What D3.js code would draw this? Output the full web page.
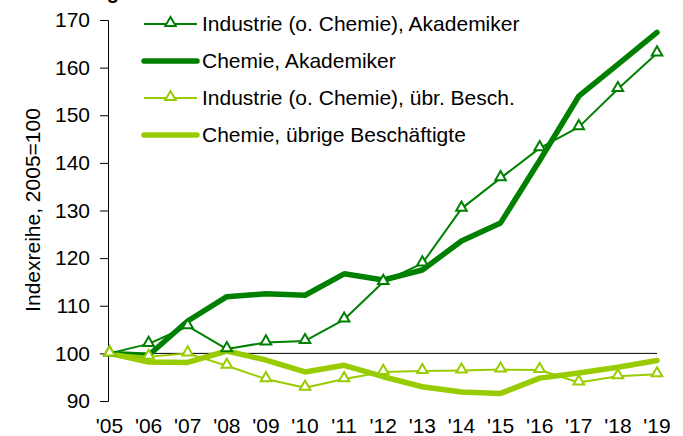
<!DOCTYPE html>
<html>
<head>
<meta charset="utf-8">
<script src="https://cdn.jsdelivr.net/npm/d3@7"></script>
<style>
  body { margin: 0; background: #fff; }
  svg text { font-family: "Liberation Sans", Arial, sans-serif; fill: #000; }
</style>
</head>
<body>
<div id="d3-container"></div>
<script>
// CONST and GLOBALS

const width = 683,
  height = 436,
  margin = { top: 20, bottom: 35, left: 108, right: 26 },
  fontSize = 21;

const darkGreen = '#008000',
  lightGreen = '#99cc00';

// data
const years = ["'05", "'06", "'07", "'08", "'09", "'10", "'11", "'12", "'13", "'14", "'15", "'16", "'17", "'18", "'19"];
const industrieAkad = [100, 102.0, 105.7, 100.9, 102.3, 102.6, 107.1, 115.0, 118.9, 130.4, 136.8, 143.1, 147.5, 155.5, 163.0];
const chemieAkad = [100, 99.6, 106.8, 111.9, 112.5, 112.2, 116.7, 115.4, 117.5, 123.6, 127.4, 140.5, 154.0, 160.7, 167.4];
const industrieUebrige = [100, 99.3, 100.0, 97.4, 94.6, 92.8, 94.6, 96.1, 96.3, 96.4, 96.6, 96.5, 93.9, 95.2, 95.6];
const chemieUebrige = [100, 98.2, 98.1, 100.5, 98.6, 96.1, 97.5, 95.1, 93.0, 91.9, 91.6, 94.8, 95.9, 97.1, 98.5];
const yTicks = [90, 100, 110, 120, 130, 140, 150, 160, 170];

const series = [
  { name: 'Industrie (o. Chemie), Akademiker', values: industrieAkad, color: darkGreen, width: 2, marker: true },
  { name: 'Chemie, Akademiker', values: chemieAkad, color: darkGreen, width: 5.5, marker: false },
  { name: 'Industrie (o. Chemie), übr. Besch.', values: industrieUebrige, color: lightGreen, width: 2, marker: true },
  { name: 'Chemie, übrige Beschäftigte', values: chemieUebrige, color: lightGreen, width: 5.5, marker: false },
];

let svg = d3
  .select('#d3-container')
  .append('svg')
  .attr('width', width)
  .attr('height', height);

// SCALES
const xScale = d3
  .scalePoint()
  .domain(years)
  .range([109.5, width - margin.right]);

const yScale = d3
  .scaleLinear()
  .domain([90, 170])
  .range([401, margin.top]);

// title, cut off at the top (only the descender shows, like in the source)
svg
  .append('text')
  .attr('x', 119)
  .attr('y', -1)
  .attr('text-anchor', 'end')
  .attr('font-size', 20)
  .attr('font-weight', 'bold')
  .text('Lohnentwicklung');

// AXES
let yAxis = d3.axisLeft(yScale).tickValues(yTicks).tickSize(8).tickPadding(10);

svg
  .append('g')
  .attr('class', 'axis y-axis')
  .attr('transform', `translate(${margin.left},0)`)
  .call(yAxis)
  .call(g => g.selectAll('text').attr('font-size', fontSize).attr('font-family', '"Liberation Sans", Arial, sans-serif'))
  .call(g => g.selectAll('line, path').attr('stroke', '#000'));

// line at 100
svg
  .append('line')
  .attr('x1', margin.left)
  .attr('x2', xScale("'19"))
  .attr('y1', yScale(100))
  .attr('y2', yScale(100))
  .attr('stroke', '#000')
  .attr('stroke-width', 1);

// x labels
svg
  .append('g')
  .selectAll('text')
  .data(years)
  .join('text')
  .attr('x', d => xScale(d))
  .attr('y', 433)
  .attr('text-anchor', 'middle')
  .attr('font-size', fontSize)
  .text(d => d);

// axis title
svg
  .append('text')
  .attr('transform', 'translate(40,210) rotate(-90)')
  .attr('text-anchor', 'middle')
  .attr('font-size', fontSize)
  .text('Indexreihe, 2005=100');

const line = d3
  .line()
  .x((d, i) => xScale(years[i]))
  .y(d => yScale(d));

const triangle = d3.symbol().type(d3.symbolTriangle).size(48);

// draw lines, thin marker series on top of the thick ones
const drawOrder = [series[1], series[3], series[0], series[2]];
drawOrder.forEach(s => {
  svg
    .append('path')
    .datum(s.values)
    .attr('fill', 'none')
    .attr('stroke', s.color)
    .attr('stroke-width', s.width)
    .attr('stroke-linejoin', 'round')
    .attr('stroke-linecap', 'round')
    .attr('d', line);

  if (s.marker) {
    svg
      .append('g')
      .selectAll('path')
      .data(s.values)
      .join('path')
      .attr('transform', (d, i) => `translate(${xScale(years[i])},${yScale(d) - 1})`)
      .attr('d', triangle)
      .attr('fill', '#fff')
      .attr('stroke', s.color)
      .attr('stroke-width', 2);
  }
});

// LEGEND
const legend = svg
  .append('g')
  .selectAll('g')
  .data(series)
  .join('g')
  .attr('transform', (d, i) => `translate(144,${24 + i * 37})`);

legend
  .append('line')
  .attr('x1', 0)
  .attr('x2', 53)
  .attr('stroke', d => d.color)
  .attr('stroke-width', d => d.width)
  .attr('stroke-linecap', d => (d.marker ? 'butt' : 'round'));

legend
  .filter(d => d.marker)
  .append('path')
  .attr('transform', 'translate(26.5,-1)')
  .attr('d', triangle)
  .attr('fill', '#fff')
  .attr('stroke', d => d.color)
  .attr('stroke-width', 2);

legend
  .append('text')
  .attr('x', 58)
  .attr('dy', '0.35em')
  .attr('font-size', fontSize)
  .text(d => d.name);
</script>
</body>
</html>
